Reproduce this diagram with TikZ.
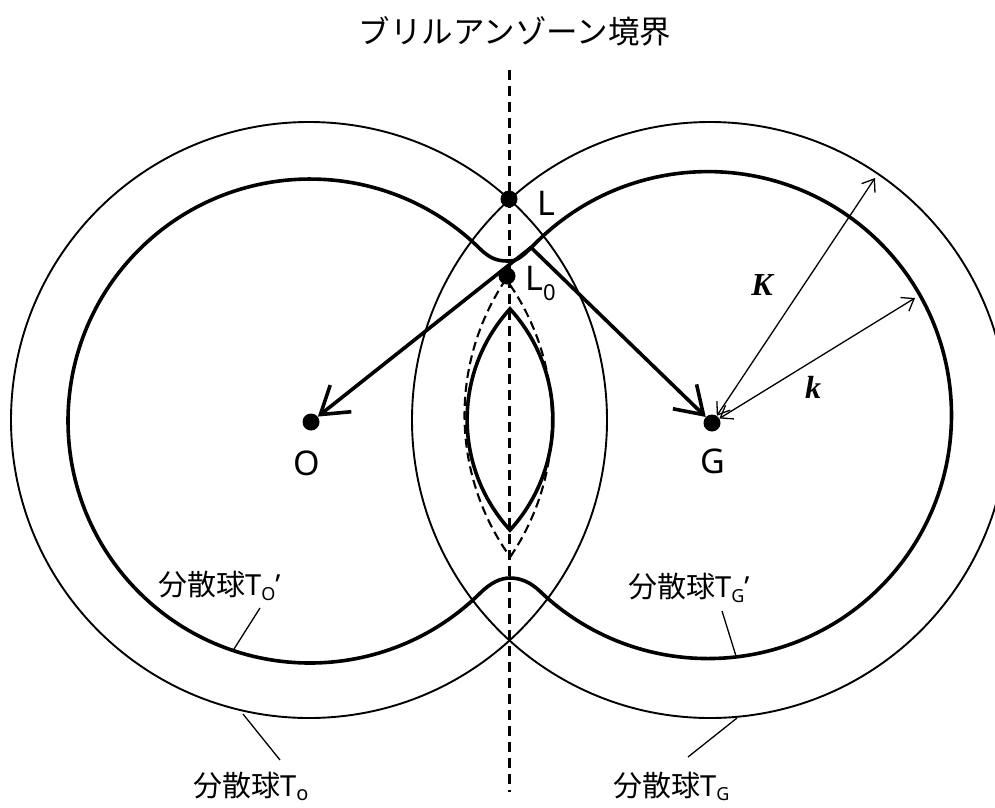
\documentclass[tikz,border=0pt]{standalone}
\usepackage{fontspec}
\setmainfont{Noto Sans CJK JP}
\newfontfamily\lat{Noto Sans}
\newfontfamily\lserif{Liberation Serif}
\usetikzlibrary{arrows.meta}
\begin{document}
\begin{tikzpicture}[x=1pt,y=1pt,
  outerc/.style={line width=1.9pt},
  thickc/.style={line width=3.6pt},
  dotn/.style={circle,fill=black,inner sep=0pt,minimum size=17pt},
  dashv/.style={line width=2.6pt,dash pattern=on 10pt off 6pt},
  dashl/.style={line width=2.1pt,dash pattern=on 9pt off 5pt},
  bigarrow/.style={line width=3.6pt,-{Straight Barb[length=26pt,width=34pt,line width=3.6pt]}},
  dimarrow/.style={line width=1.3pt,{Straight Barb[length=11pt,width=16pt]}-{Straight Barb[length=11pt,width=16pt]}},
  leader/.style={line width=1.3pt},
  jlbl/.style={inner sep=0pt,font=\fontsize{29}{30}\selectfont},
  big/.style={inner sep=0pt,font=\lat\fontsize{34}{34}\selectfont},
  vec/.style={inner sep=0pt,font=\lserif\bfseries\itshape\fontsize{32}{32}\selectfont}]
\useasboundingbox (0,0) rectangle (995,-807);
% scattering spheres (thin)
\draw[outerc] (309,-420) circle[radius=298];
\draw[outerc] (710,-420) circle[radius=298];
% Brillouin zone boundary
\coordinate (bzT) at (509.5,-70);
\coordinate (bzB) at (509.5,-792);
\draw[dashv] (bzT) -- (bzB);
% outer branch of dispersion surface
\draw[thickc,line join=round] (480,-248.8) arc[start angle=45.37,end angle=314.63,radius=242]
  .. controls (490,-583.3) and (500,-578) .. (510,-578)
  .. controls (520,-578) and (530,-581.8) .. (540,-591.3)
  arc[start angle=226.37,end angle=493.63,radius=243.5]
  .. controls (528,-250.2) and (520,-261) .. (510,-261)
  .. controls (500,-261) and (492,-260.6) .. (480,-248.8) -- cycle;
% inner branch (lens)
\draw[thickc,line join=miter] (510,-308.9) arc[start angle=137.6,end angle=222.4,radius=164]
  arc[start angle=-42.4,end angle=42.4,radius=164] -- cycle;
% dashed lens (original spheres)
\draw[dashl] (310,-421) ++(-34.18:242) arc[start angle=-34.18,end angle=35.91,radius=242];
\draw[dashl] (708,-415) ++(146.06:243.5) arc[start angle=146.06,end angle=215.67,radius=243.5];
% points
\node[dotn] (O) at (311,-422) {};
\node[dotn] (G) at (712,-423) {};
\node[dotn] (L) at (509,-199) {};
\node[dotn] (L0) at (507,-276) {};
% wave vectors
\coordinate (P) at (531,-247.5);
\draw[bigarrow] (P) -- (O);
\draw[bigarrow] (P) -- (G);
\coordinate (Ke) at (875,-178);
\coordinate (ke) at (915,-298);
\draw[dimarrow] (G) -- (Ke);
\draw[dimarrow] (G) -- (ke);
% labels
\node[anchor=center,inner sep=0pt,font=\fontsize{31.5}{32}\selectfont] (title) at (515,-31) {ブリルアンゾーン境界};
\node[big,anchor=base] (Olab) at (307,-475) {O};
\node[big,anchor=base] (Glab) at (713,-473) {G};
\node[big,anchor=base west] (Llab) at (537,-215) {L};
\node[big,anchor=base west] (L0lab) at (525,-290) {L\raisebox{-10pt}{\fontsize{22}{22}\selectfont 0}};
\node[vec] (Klab) at (762,-285) {K};
\node[vec] (klab) at (813,-387) {k};
\node[jlbl,anchor=base west] (tOp) at (158,-595) {分散球{\lat T\raisebox{-5pt}{\fontsize{18}{18}\selectfont O}’}};
\node[jlbl,anchor=base west] (tO) at (193,-796) {分散球{\lat T\raisebox{-4pt}{\fontsize{20}{20}\selectfont o}}};
\node[jlbl,anchor=base west] (tGp) at (628,-597) {分散球{\lat T\raisebox{-5pt}{\fontsize{18}{18}\selectfont G}’}};
\node[jlbl,anchor=base west] (tG) at (613,-796) {分散球{\lat T\raisebox{-4pt}{\fontsize{18}{18}\selectfont G}}};
% leaders
\coordinate (a1) at (260,-608); \coordinate (b1) at (234,-649);
\coordinate (a2) at (280,-760); \coordinate (b2) at (243,-714);
\coordinate (a3) at (722,-611); \coordinate (b3) at (736,-656);
\coordinate (a4) at (688,-757); \coordinate (b4) at (737,-718);
\draw[leader] (a1) -- (b1);
\draw[leader] (a2) -- (b2);
\draw[leader] (a3) -- (b3);
\draw[leader] (a4) -- (b4);
\end{tikzpicture}
\end{document}
